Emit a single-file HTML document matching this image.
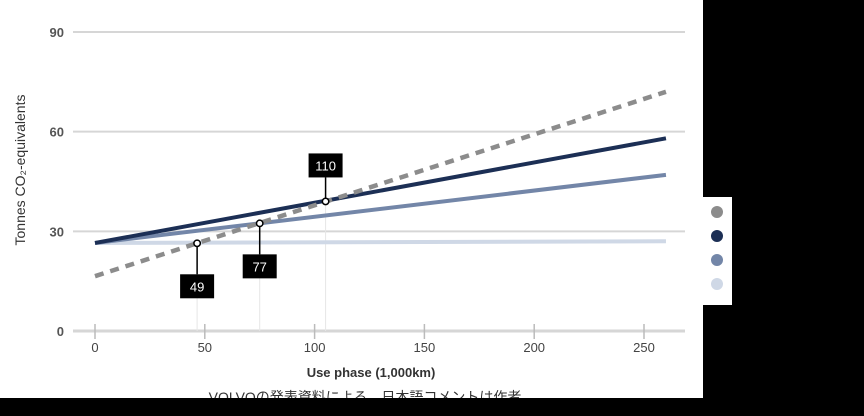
<!DOCTYPE html>
<html><head><meta charset="utf-8"><style>
html,body{margin:0;padding:0;background:#000;width:864px;height:416px;overflow:hidden}
svg{display:block}
text{font-family:"Liberation Sans","Noto Sans CJK JP",sans-serif}
</style></head><body>
<svg id="c" width="864" height="416">
<rect x="0" y="0" width="703" height="398" fill="#fff"/>
<rect x="703" y="197" width="29" height="108" fill="#fff"/>
</svg>
<script>
const xTicks=[0,50,100,150,200,250];
const yTicks=[0,30,60,90];
const xs=[0,260];
const petrolVals=[16.5,72];
const euMixVals=[26.5,58];
const globalMixVals=[26.5,47];
const windVals=[26.5,27];
const crossX=[46.5,75,105];
const crossY=[26.4,32.4,39];
const crossLabels=["49","77","110"];
const labelAbove=[false,false,true];
const legendColors=["#8c8c8c","#1c2f55","#7386a8","#cfd8e6"];
const NS="http://www.w3.org/2000/svg";
const svg=document.getElementById('c');
function X(v){return 95+v*(644-95)/250;}
function Y(v){return 331-v*(331-32)/90;}
function el(t,a,p){const e=document.createElementNS(NS,t);for(const k in a)e.setAttribute(k,a[k]);(p||svg).appendChild(e);return e;}
yTicks.forEach(t=>{
  const g=el('line',{x1:73,x2:685,y1:Y(t),y2:Y(t),stroke:'#d6d6d6','stroke-width':t===0?3:2});
  
  
  const l=el('text',{x:64,y:Y(t)+5,'text-anchor':'end','font-size':13,'font-weight':'bold',fill:'#555'});
  l.textContent=t;
  
  
});
xTicks.forEach(t=>{
  const k=el('line',{x1:X(t),x2:X(t),y1:324,y2:339,stroke:'#bbb','stroke-width':1.5});
  
  
  const l=el('text',{x:X(t),y:352,'text-anchor':'middle','font-size':13,fill:'#444'});
  l.textContent=t;
  
  
});
crossX.forEach((v,i)=>{
  const g=el('line',{x1:X(v),x2:X(v),y1:Y(crossY[i]),y2:331,stroke:'#e6e6e6','stroke-width':1});
  
  
});
function series(vals,color,w,dash,name){
  const p=el('line',{x1:X(xs[0]),y1:Y(vals[0]),x2:X(xs[1]),y2:Y(vals[1]),stroke:color,'stroke-width':w});
  if(dash)p.setAttribute('stroke-dasharray',dash);
  
  
}
series(windVals,legendColors[3],4,null,'line-wind');
series(globalMixVals,legendColors[2],4,null,'line-global-mix');
series(euMixVals,legendColors[1],4,null,'line-eu-mix');
series(petrolVals,legendColors[0],4.5,'9,7','line-petrol');
crossX.forEach((v,i)=>{
  const cx=X(v),cy=Y(crossY[i]);
  const by=labelAbove[i]?cy-48:cy+(i===0?31:31);
  const s=el('line',{x1:cx,x2:cx,y1:cy,y2:labelAbove[i]?by+24:by,stroke:'#000','stroke-width':1.5});
  
  
  const c=el('circle',{cx:cx,cy:cy,r:3.2,fill:'#fff',stroke:'#000','stroke-width':1.5});
  
  
  const w=crossLabels[i].length>2?34:34;
  const r=el('rect',{x:cx-w/2,y:by,width:w,height:24,fill:'#000'});
  
  
  const t=el('text',{x:cx,y:by+17,'text-anchor':'middle','font-size':13,fill:'#fff'});
  t.textContent=crossLabels[i];
  
  
});
legendColors.forEach((c,i)=>{
  const d=el('circle',{cx:717,cy:212+i*24,r:6,fill:c});
  
  
});
const xt=el('text',{x:371,y:377,'text-anchor':'middle','font-size':13,'font-weight':'bold',fill:'#333'});
xt.textContent='Use phase (1,000km)';


const yt=el('text',{x:0,y:0,'text-anchor':'middle','font-size':14,fill:'#333',transform:'translate(25,170) rotate(-90)'});
yt.textContent='Tonnes CO₂-equivalents';


const cap=el('text',{x:365,y:402,'text-anchor':'middle','font-size':14,fill:'#333'});
cap.textContent='VOLVOの発表資料による、日本語コメントは作者';


const bb=el('rect',{x:0,y:398,width:864,height:18,fill:'#000'});


</script>
</body></html>
